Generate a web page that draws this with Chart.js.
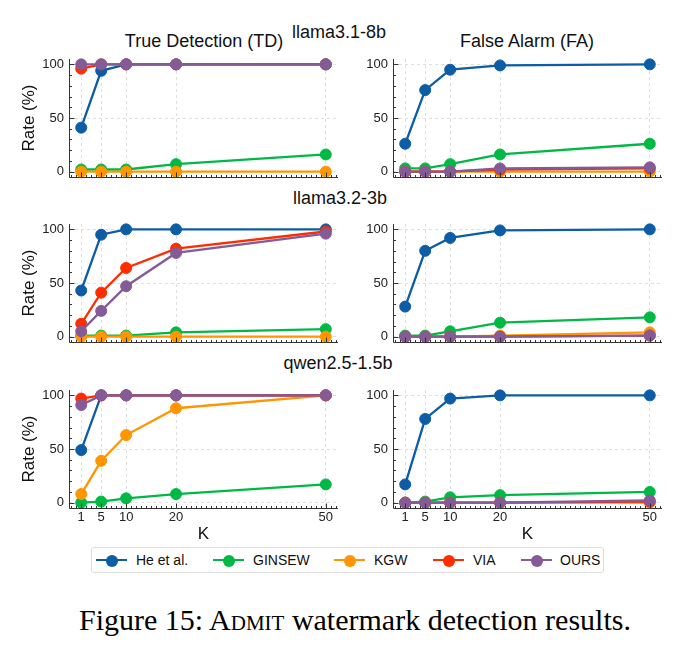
<!DOCTYPE html>
<html>
<head>
<meta charset="utf-8">
<script src="https://cdn.jsdelivr.net/npm/chart.js@4.4.0/dist/chart.umd.min.js"></script>
<style>
  body { margin: 0; background: #fff; width: 683px; height: 654px; position: relative; overflow: hidden;
         font-family: "Liberation Sans", Arial, sans-serif; color: #111; }
  canvas { position: absolute; }
  .lbl { position: absolute; white-space: nowrap; font-size: 18px; line-height: 18px; transform: translateX(-50%); }
  #legend { position: absolute; left: 91px; top: 547px; width: 511px; height: 24px; border: 1px solid #ddd; border-radius: 3px; }
  .item { position: absolute; top: 0; height: 24px; }
  .item .ln { position: absolute; top: 11px; width: 31px; height: 2.3px; }
  .item .dot { position: absolute; top: 6.5px; left: 10px; width: 12px; height: 12px; border-radius: 50%; }
  .item .tx { position: absolute; top: 4px; font-size: 14px; line-height: 16px; white-space: nowrap; }
  #caption { position: absolute; left: 0; width: 710px; text-align: center; top: 603px;
             font-family: "Liberation Serif", "Times New Roman", serif; font-size: 30px; line-height: 34px; color: #000; }
</style>
</head>
<body>

<div class="lbl" style="left:204px; top:32px;">True Detection (TD)</div>
<div class="lbl" style="left:339px; top:23px;">llama3.1-8b</div>
<div class="lbl" style="left:527px; top:32px;">False Alarm (FA)</div>
<div class="lbl" style="left:340px; top:189px;">llama3.2-3b</div>
<div class="lbl" style="left:338px; top:354px;">qwen2.5-1.5b</div>

<canvas id="c11"></canvas>
<canvas id="c12"></canvas>
<canvas id="c21"></canvas>
<canvas id="c22"></canvas>
<canvas id="c31"></canvas>
<canvas id="c32"></canvas>

<div id="legend"></div>
<div id="caption">Figure 15: A<span style="font-variant: small-caps;">dmit</span> watermark detection results.</div>

<script>
// K values on the x axis
const kValues = [1, 5, 10, 20, 50];
const yTicks = [0, 50, 100];

const methods = ['He et al.', 'GINSEW', 'KGW', 'VIA', 'OURS'];
const colors = ['#0C5DA5', '#00B945', '#FF9500', '#FF2C00', '#845B97'];

// rows follow the order of `methods`
const llama31TD = [
    [41, 94, 100, 100, 100],
    [2, 2, 2, 7, 16],
    [0, 0, 0, 0, 0],
    [96, 100, 100, 100, 100],
    [100, 100, 100, 100, 100]
];
const llama31FA = [
    [26, 76, 95, 99, 100],
    [3, 3, 7, 16, 26],
    [0, 0, 0, 0, 0],
    [0, 0, 0, 2, 3],
    [0, 0, 0, 3, 4]
];
const llama32TD = [
    [43, 95, 100, 100, 100],
    [1, 1, 1, 4, 7],
    [0, 0, 0, 0, 0],
    [12, 41, 64, 82, 98],
    [5, 24, 47, 78, 96]
];
const llama32FA = [
    [28, 80, 92, 99, 100],
    [1, 1, 5, 13, 18],
    [0, 0, 0, 1, 4],
    [0, 0, 0, 0, 1],
    [0, 0, 0, 0, 1]
];
const qwenTD = [
    [49, 100, 100, 100, 100],
    [0, 1, 4, 8, 17],
    [8, 39, 63, 88, 100],
    [97, 100, 100, 100, 100],
    [91, 100, 100, 100, 100]
];
const qwenFA = [
    [17, 78, 97, 100, 100],
    [0, 1, 5, 7, 10],
    [0, 0, 0, 0, 0],
    [0, 0, 0, 0, 1],
    [0, 0, 0, 0, 2]
];

// left + bottom spines with inward major/minor ticks (matplotlib look)
const spinePlugin = {
    id: 'spines',
    afterDraw(chart) {
        const { ctx, chartArea: a, scales: { x, y } } = chart;
        const left = Math.round(a.left) + 0.5, bottom = Math.round(a.bottom) + 0.5;
        ctx.save();
        ctx.strokeStyle = '#333';
        ctx.lineWidth = 1;
        ctx.beginPath();
        ctx.moveTo(left, a.top);
        ctx.lineTo(left, bottom);
        ctx.lineTo(a.right, bottom);
        for (let v = 0; v <= 100; v += 10) {
            const py = Math.round(y.getPixelForValue(v)) + 0.5;
            const len = v % 50 === 0 ? 5 : 2.5;
            ctx.moveTo(left, py);
            ctx.lineTo(left + len, py);
        }
        for (let v = -1; v <= 52; v++) {
            const px = Math.round(x.getPixelForValue(v)) + 0.5;
            const len = kValues.includes(v) ? 5 : 2.5;
            ctx.moveTo(px, bottom);
            ctx.lineTo(px, bottom - len);
        }
        ctx.stroke();
        ctx.restore();
    }
};

function makePanel(id, rows, box) {
    const canvas = document.getElementById(id);
    canvas.width = box.w;
    canvas.height = box.h;
    canvas.style.left = box.x + 'px';
    canvas.style.top = box.y + 'px';

    new Chart(canvas.getContext('2d'), {
        type: 'line',
        data: {
            datasets: rows.map((vals, i) => ({
                label: methods[i],
                data: kValues.map((k, j) => ({ x: k, y: vals[j] })),
                borderColor: colors[i],
                backgroundColor: colors[i],
                pointBackgroundColor: colors[i],
                pointBorderColor: colors[i],
                borderWidth: 2.3,
                pointRadius: 5.5,
                pointBorderWidth: 1,
                order: methods.length - i,
                clip: false
            }))
        },
        options: {
            responsive: false,
            animation: false,
            events: [],
            layout: { padding: { top: box.padTop, right: box.padRight, left: 0, bottom: 0 } },
            plugins: { legend: { display: false }, tooltip: { enabled: false } },
            scales: {
                x: {
                    type: 'linear',
                    min: -1.45,
                    max: 52.45,
                    afterBuildTicks: (s) => { s.ticks = kValues.map(v => ({ value: v })); },
                    afterFit: (s) => { s.height = box.xHeight; s.paddingLeft = 0; s.paddingRight = 0; },
                    grid: { color: 'rgba(0,0,0,0.16)', lineWidth: 0.8, drawTicks: false },
                    border: { display: false, dash: [3, 3] },
                    ticks: {
                        display: box.showX,
                        autoSkip: false,
                        maxRotation: 0,
                        padding: 2,
                        color: '#222',
                        font: { size: 13, family: '"Liberation Sans", Arial, sans-serif' }
                    },
                    title: {
                        display: box.showX,
                        text: 'K',
                        color: '#111',
                        padding: { top: 0, bottom: 0 },
                        font: { size: 17, family: '"Liberation Sans", Arial, sans-serif' }
                    }
                },
                y: {
                    min: -5,
                    max: 105,
                    afterBuildTicks: (s) => { s.ticks = yTicks.map(v => ({ value: v })); },
                    afterFit: (s) => { s.width = box.yWidth; s.paddingTop = 0; s.paddingBottom = 0; },
                    grid: { color: 'rgba(0,0,0,0.16)', lineWidth: 0.8, drawTicks: false },
                    border: { display: false, dash: [3, 3] },
                    ticks: {
                        padding: 5,
                        color: '#222',
                        font: { size: 13, family: '"Liberation Sans", Arial, sans-serif' }
                    },
                    title: {
                        display: box.showY,
                        text: 'Rate (%)',
                        color: '#111',
                        padding: { top: 19, bottom: 0 },
                        font: { size: 17, family: '"Liberation Sans", Arial, sans-serif' }
                    }
                }
            }
        },
        plugins: [spinePlugin]
    });
}

const leftCol = { x: 0, w: 345, yWidth: 69, padRight: 7, showY: true };
const rightCol = { x: 345, w: 338, yWidth: 48, padRight: 21, showY: false };
const row1 = { y: 50, h: 135, padTop: 9, xHeight: 8, showX: false };
const row2 = { y: 215, h: 135, padTop: 9, xHeight: 8, showX: false };
const row3 = { y: 381, h: 164, padTop: 9, xHeight: 37, showX: true };

makePanel('c11', llama31TD, { ...leftCol, ...row1 });
makePanel('c12', llama31FA, { ...rightCol, ...row1 });
makePanel('c21', llama32TD, { ...leftCol, ...row2 });
makePanel('c22', llama32FA, { ...rightCol, ...row2 });
makePanel('c31', qwenTD, { ...leftCol, ...row3 });
makePanel('c32', qwenFA, { ...rightCol, ...row3 });

// shared legend below the grid
const legendLineX = [4, 121, 242, 341, 429];
const legendTextX = [44, 161, 282, 381, 468];
const legend = document.getElementById('legend');
methods.forEach((name, i) => {
    const item = document.createElement('div');
    item.className = 'item';
    item.innerHTML =
        '<div class="ln" style="left:' + legendLineX[i] + 'px;background:' + colors[i] + '"></div>' +
        '<div class="dot" style="left:' + (legendLineX[i] + 9.5) + 'px;background:' + colors[i] + '"></div>' +
        '<div class="tx" style="left:' + legendTextX[i] + 'px">' + name + '</div>';
    legend.appendChild(item);
});
</script>
</body>
</html>
